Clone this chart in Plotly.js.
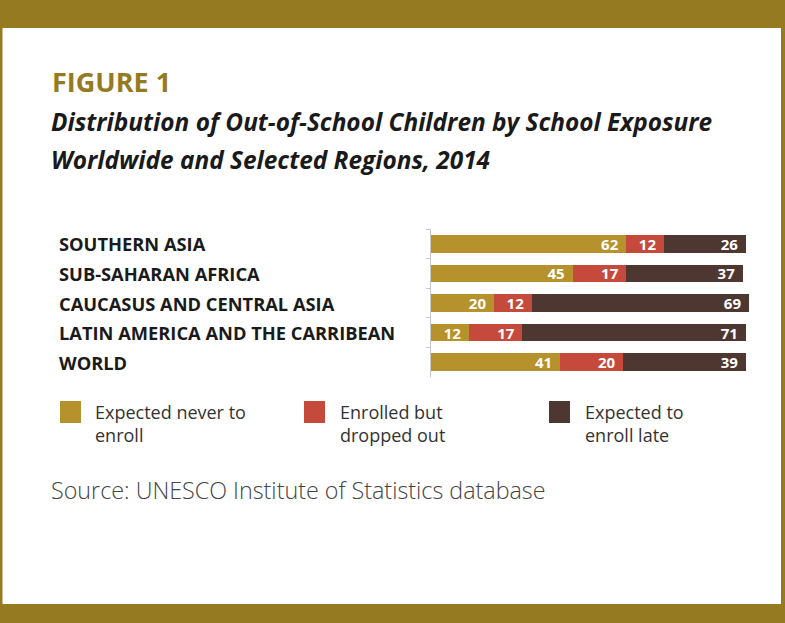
<!DOCTYPE html>
<html>
<head>
<meta charset="utf-8">
<script src="https://cdn.plot.ly/plotly-3.0.1.min.js"></script>
<style>html,body{margin:0;padding:0;background:#fff;}#chart{width:785px;height:623px;}</style>
</head>
<body>
<div id="chart"></div>
<script>
const categories = ["SOUTHERN ASIA", "SUB-SAHARAN AFRICA", "CAUCASUS AND CENTRAL ASIA", "LATIN AMERICA AND THE CARRIBEAN", "WORLD"];
const seriesNames = ["Expected never to<br>enroll", "Enrolled but<br>dropped out", "Expected to<br>enroll late"];
const neverEnroll = [62, 45, 20, 12, 41];
const droppedOut = [12, 17, 12, 17, 20];
const enrollLate = [26, 37, 69, 71, 39];
const colors = ["#B5922B", "#C64A3B", "#4E3730"];

const W = 785, H = 623;
const px = x => x / W;
const py = y => 1 - y / H;

const seriesValues = [neverEnroll, droppedOut, enrollLate];
const traces = seriesValues.map((vals, i) => ({
  type: "bar",
  orientation: "h",
  y: categories,
  x: vals,
  name: seriesNames[i],
  marker: {color: colors[i], line: {width: 0}},
  text: vals.map(v => v + "\u2009\u2009"),
  textposition: "inside",
  insidetextanchor: "end",
  textangle: 0,
  constraintext: "none",
  textfont: {family: "Open Sans", size: 15, color: "#ffffff", weight: 700},
  hoverinfo: "none",
  showlegend: false,
  cliponaxis: false
}));

const gold = "#967A22";
const shapes = [
  {type: "rect", xref: "paper", yref: "paper", x0: 0, x1: 1, y0: py(28), y1: 1, fillcolor: gold, line: {width: 0}, layer: "below"},
  {type: "rect", xref: "paper", yref: "paper", x0: 0, x1: 1, y0: 0, y1: py(604), fillcolor: gold, line: {width: 0}, layer: "below"},
  {type: "rect", xref: "paper", yref: "paper", x0: 0, x1: px(2.5), y0: 0, y1: 1, fillcolor: gold, line: {width: 0}, layer: "below"},
  {type: "rect", xref: "paper", yref: "paper", x0: px(781), x1: 1, y0: 0, y1: 1, fillcolor: gold, line: {width: 0}, layer: "below"}
];
const annotations = [
  {xref: "paper", yref: "paper", x: px(50), y: py(81), xanchor: "left", yanchor: "middle", showarrow: false,
   text: "FIGURE 1", font: {family: "Open Sans", size: 27, color: gold, weight: 700}},
  {xref: "paper", yref: "paper", x: px(49), y: py(121), xanchor: "left", yanchor: "middle", showarrow: false,
   text: "<i>Distribution of Out-of-School Children by School Exposure</i>", font: {family: "Open Sans", size: 24.4, color: "#1a1a1a", weight: 700}},
  {xref: "paper", yref: "paper", x: px(49), y: py(160), xanchor: "left", yanchor: "middle", showarrow: false,
   text: "<i>Worldwide and Selected Regions, 2014</i>", font: {family: "Open Sans", size: 24.4, color: "#1a1a1a", weight: 700}},
  {xref: "paper", yref: "paper", x: px(49), y: py(490), xanchor: "left", yanchor: "middle", showarrow: false,
   text: "Source: UNESCO Institute of Statistics database", font: {family: "Open Sans", size: 23.3, color: "#444444", weight: 300}}
];
categories.forEach(c => annotations.push({
  xref: "paper", yref: "y", x: px(57), y: c, xanchor: "left", yanchor: "middle", showarrow: false,
  text: c, font: {family: "Open Sans", size: 18.3, color: "#1a1a1a", weight: 700}
}));
const legendX = [60, 304, 549];
const legendTextX = [93, 338, 583];
seriesNames.forEach((n, i) => {
  shapes.push({type: "rect", xref: "paper", yref: "paper", x0: px(legendX[i]), x1: px(legendX[i] + 21),
    y0: py(423), y1: py(401), fillcolor: colors[i], line: {width: 0}});
  annotations.push({xref: "paper", yref: "paper", x: px(legendTextX[i]), y: py(398), xanchor: "left", yanchor: "top",
    showarrow: false, align: "left", text: n,
    font: {family: "Open Sans", size: 18, color: "#333333"}});
});

const layout = {
  width: W, height: H,
  margin: {l: 0, r: 0, t: 0, b: 0},
  paper_bgcolor: "#ffffff", plot_bgcolor: "rgba(0,0,0,0)",
  barmode: "stack", bargap: 0.4,
  showlegend: false,
  xaxis: {domain: [px(431), px(749)], range: [0, 101], showgrid: false, zeroline: false, showticklabels: false, ticks: "", showline: false, fixedrange: true},
  yaxis: {domain: [py(377), py(229)], autorange: "reversed", showgrid: false, zeroline: false, showticklabels: false,
    ticks: "outside", tickson: "boundaries", ticklen: 4, tickcolor: "#c8c8c8", showline: true, linecolor: "#c8c8c8", linewidth: 1, fixedrange: true},
  shapes: shapes,
  annotations: annotations,
  font: {family: "Open Sans"}
};
Plotly.newPlot("chart", traces, layout, {displayModeBar: false, staticPlot: true});
</script>
</body>
</html>
